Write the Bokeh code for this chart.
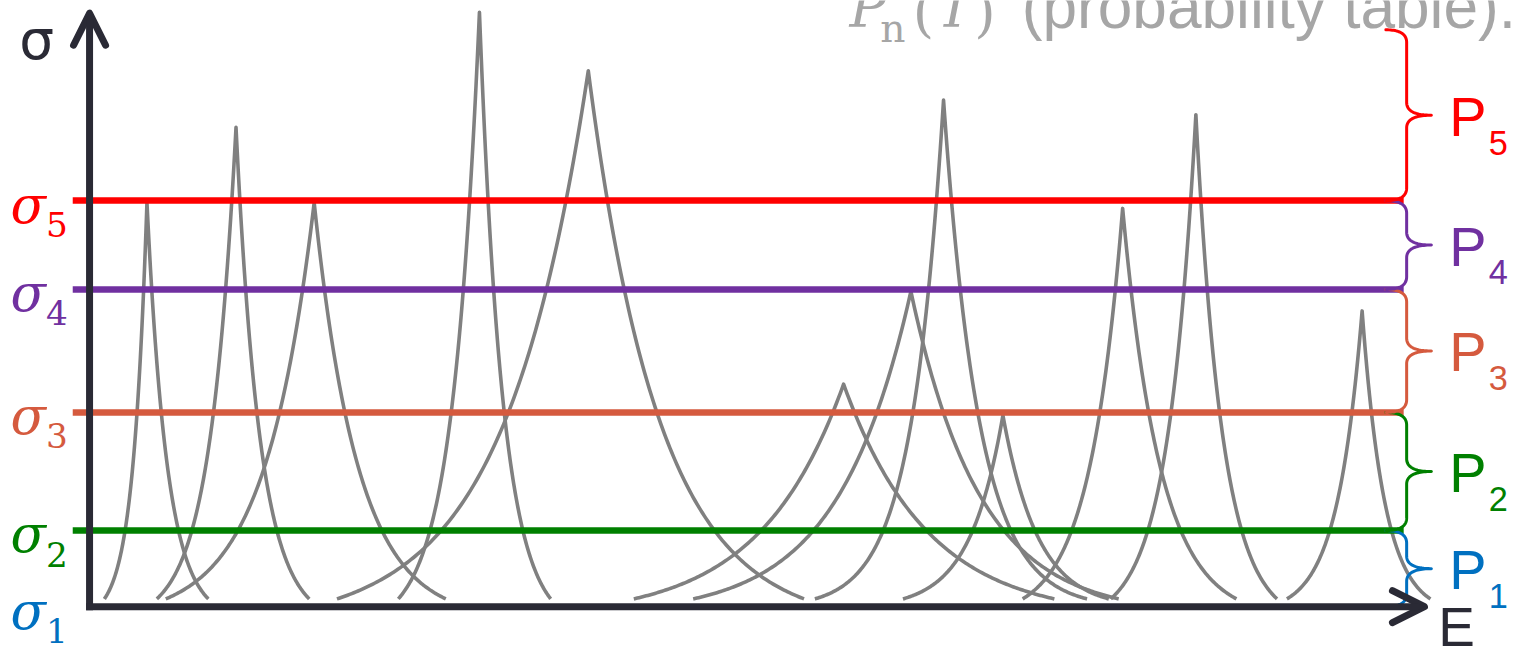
import numpy as np
from bokeh.plotting import figure
from bokeh.models import Range1d, ColumnDataSource, Arrow, OpenHead
from bokeh.core.properties import value, field
from bokeh.embed import file_html
from bokeh.resources import INLINE

# ---- data: resonance peaks (apex energy, peak cross section, left/right foot, sharpness)
peak_E     = [148, 238, 317, 484, 594, 852, 920, 953, 1013, 1134, 1208, 1376]
peak_sigma = [414, 491, 414, 609, 549, 228, 323, 519, 196, 408, 504, 303]
foot_left  = [105, 158, 167, 402, 340, 640, 700, 823, 912, 1033, 1122, 1300]
foot_right = [210, 312, 450, 556, 812, 1065, 1130, 1098, 1120, 1249, 1290, 1445]
sharpness  = [3, 3, 3, 3, 3, 2.5, 3, 4, 3, 3, 3, 3]
base_sigma = 8

# ---- data: probability-table levels
level_index  = ["1", "2", "3", "4", "5"]
sigma_levels = [0, 78, 199, 325, 416]
sigma_top    = 591
level_colors = ["#0070c0", "#008000", "#d55a3e", "#7030a0", "#ff0000"]

axis_color = "#2a2a35"
curve_color = "#808080"
gray = "#a6a6a6"

W, H = 1515, 656
p = figure(width=W, height=H, x_range=Range1d(0, 1531), y_range=Range1d(-51, 621),
           output_backend="svg", toolbar_location=None, min_border=0)
p.axis.visible = False
p.grid.visible = False
p.outline_line_color = None
p.background_fill_color = "white"
p.border_fill_color = "white"

def fs(px):
    return f"{px * 0.98:.1f}px"

# ---- resonance curves
xs, ys = [], []
for xa, h, xl, xr, k in zip(peak_E, peak_sigma, foot_left, foot_right, sharpness):
    s = np.linspace(0, 1, 120)
    frac = (np.exp(k * s) - 1) / (np.exp(k) - 1)
    xlft = xl + s * (xa - xl)
    xrgt = xr + s * (xa - xr)
    yv = base_sigma + (h - base_sigma) * frac
    xs.append(np.concatenate([xlft, xrgt[::-1]]).tolist())
    ys.append(np.concatenate([yv, yv[::-1]]).tolist())
p.multi_line(xs, ys, line_color=curve_color, line_width=3.6, line_join="round")

# ---- horizontal level lines (sigma_2 .. sigma_5)
line_x0, line_x1 = 73, 1418
p.segment(x0=[line_x0] * 4, y0=sigma_levels[1:], x1=[line_x1] * 4, y1=sigma_levels[1:],
          line_color=level_colors[1:], line_width=6.5)

# ---- braces
def brace(y_top, y_bot, x0=1400, xv=1421, xt=1446):
    ym = (y_top + y_bot) / 2
    r = min(13, (y_top - y_bot) / 4)
    t = np.linspace(0, 1, 25)[:, None]
    def quad(a, b, c):
        a, b, c = np.array(a), np.array(b), np.array(c)
        return (1 - t) ** 2 * a + 2 * (1 - t) * t * b + t ** 2 * c
    segs = [
        quad((x0, y_top), (xv, y_top), (xv, y_top - r)),
        quad((xv, ym + r), (xv, ym), (xt, ym)),
        quad((xt, ym), (xv, ym), (xv, ym - r)),
        quad((xv, y_bot + r), (xv, y_bot), (x0, y_bot)),
    ]
    pts = np.vstack(segs)
    return pts[:, 0].tolist(), pts[:, 1].tolist()

bx, by, bc = [], [], []
bounds = sigma_levels + [sigma_top]
for i in range(5):
    x_, y_ = brace(bounds[i + 1], bounds[i])
    bx.append(x_); by.append(y_); bc.append(level_colors[i])
p.multi_line(bx, by, line_color=bc, line_width=3, line_join="round", line_cap="round")

# ---- axes with arrows
p.add_layout(Arrow(x_start=90, y_start=-3.5, x_end=90, y_end=608, line_width=7, line_color=axis_color,
                   end=OpenHead(size=32, line_width=7, line_color=axis_color,
                                line_cap="round", line_join="round")))
p.add_layout(Arrow(x_start=86.5, y_start=0, x_end=1439, y_end=0, line_width=7, line_color=axis_color,
                   end=OpenHead(size=32, line_width=7, line_color=axis_color,
                                line_cap="round", line_join="round")))

# ---- left sigma labels
src_sig = ColumnDataSource(dict(
    x=[10] * 5, y=[v - 4 for v in sigma_levels], t=["σ"] * 5, c=level_colors))
p.text(x="x", y="y", text="t", source=src_sig, text_color=field("c"),
       text_font=value("DejaVu Serif"), text_font_style="italic", text_font_size=fs(53),
       text_baseline="middle", text_align="left")
src_sub = ColumnDataSource(dict(
    x=[46] * 5, y=[v - 24 for v in sigma_levels], t=level_index, c=level_colors))
p.text(x="x", y="y", text="t", source=src_sub, text_color=field("c"),
       text_font=value("DejaVu Serif"), text_font_size=fs(35),
       text_baseline="middle", text_align="left")

# ---- right P labels
mids = [(bounds[i] + bounds[i + 1]) / 2 for i in range(5)]
src_P = ColumnDataSource(dict(x=[1464] * 5, y=[m - 1 for m in mids], t=["P"] * 5, c=level_colors))
p.text(x="x", y="y", text="t", source=src_P, text_color=field("c"),
       text_font=value("Liberation Sans"), text_font_size=fs(57),
       text_baseline="middle", text_align="left")
src_Ps = ColumnDataSource(dict(x=[1504] * 5, y=[m - 28 for m in mids], t=level_index, c=level_colors))
p.text(x="x", y="y", text="t", source=src_Ps, text_color=field("c"),
       text_font=value("Liberation Sans"), text_font_size=fs(35),
       text_baseline="middle", text_align="left")

# ---- axis labels
p.text(x=[19], y=[581], text=["σ"], text_color=axis_color, text_font=value("DejaVu Sans"),
       text_font_size=fs(56), text_baseline="middle", text_align="left")
p.text(x=[1453], y=[-21], text=["E"], text_color=axis_color, text_font=value("Liberation Sans"),
       text_font_size=fs(56), text_baseline="middle", text_align="left")

# ---- caption at top (partly cut off, as in the reference)
p.text(x=[858], y=[613], text=["P"], text_color=gray, text_font=value("DejaVu Serif"),
       text_font_style="italic", text_font_size=fs(56), text_baseline="middle")
p.text(x=[889], y=[592], text=["n"], text_color=gray, text_font=value("DejaVu Serif"),
       text_font_size=fs(40), text_baseline="middle")
p.text(x=[922], y=[609], text=["("], text_color=gray, text_font=value("DejaVu Serif"),
       text_font_size=fs(56), text_baseline="middle")
p.text(x=[946], y=[613], text=["T"], text_color=gray, text_font=value("DejaVu Serif"),
       text_font_style="italic", text_font_size=fs(56), text_baseline="middle")
p.text(x=[984], y=[609], text=[")"], text_color=gray, text_font=value("DejaVu Serif"),
       text_font_size=fs(56), text_baseline="middle")
p.text(x=[1032], y=[615], text=["(probability table)."], text_color=gray,
       text_font=value("Liberation Sans"), text_font_size=fs(63.5), text_baseline="middle")

open("out.html", "w").write(file_html(p, INLINE))
